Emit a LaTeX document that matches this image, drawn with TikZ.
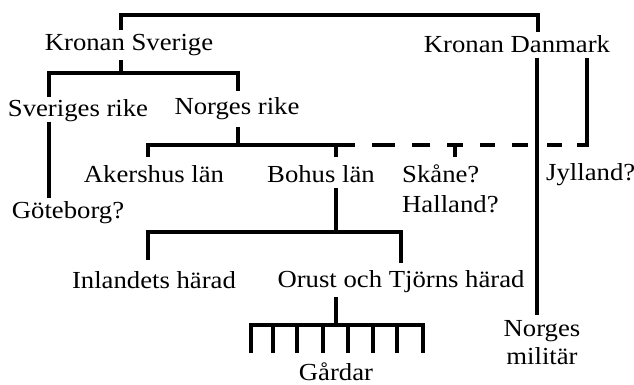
\documentclass[tikz,border=0pt]{standalone}
\usepackage{fontspec}
\setmainfont{Liberation Serif}[FakeStretch=1.09]
\begin{document}
\begin{tikzpicture}[x=1pt,y=-1pt,
  lbl/.style={font=\fontsize{24.5}{28}\selectfont, inner sep=0pt, anchor=base},
  br/.style={line width=3.4pt, line cap=butt, line join=miter}]
\useasboundingbox (0,0) rectangle (634,385);
\fill[white] (0,0) rectangle (634,385);
% labels
\node[lbl] (ks) at (129,51) {Kronan Sverige};
\node[lbl] (kd) at (517,53) {Kronan Danmark};
\node[lbl] (sr) at (78,117) {Sveriges rike};
\node[lbl] (nr) at (237,115) {Norges rike};
\node[lbl] (ak) at (154,182) {Akershus län};
\node[lbl] (bo) at (321,182) {Bohus län};
\node[lbl, anchor=base west] (sk) at (402,182) {Skåne?};
\node[lbl, anchor=base west] (ha) at (402,212) {Halland?};
\node[lbl, anchor=base west] (jy) at (546,180) {Jylland?};
\node[lbl] (gb) at (68,218) {Göteborg?};
\node[lbl] (in) at (154,288) {Inlandets härad};
\node[lbl] (or) at (401,287) {Orust och Tjörns härad};
\node[lbl, align=center] (nm) at (542,364) {Norges\\militär};
\node[lbl] (ga) at (336,380) {Gårdar};
% connector end points
\coordinate (ksT) at (121,30);  \coordinate (kdT) at (538,32);
\coordinate (ksB) at (121,60);  \coordinate (srT) at (49,97);  \coordinate (nrT) at (238,91);
\coordinate (srB) at (49,122);  \coordinate (gbT) at (49,198);
\coordinate (nrB) at (238,127); \coordinate (akT) at (148,157); \coordinate (boT) at (336,157);
\coordinate (skT) at (455,157); \coordinate (kdJ) at (587,58);
\coordinate (kdB) at (537,58);  \coordinate (nmT) at (537,315);
\coordinate (boB) at (336,188); \coordinate (inT) at (148,260); \coordinate (orT) at (401,263);
\coordinate (orB) at (336,297); \coordinate (gaL) at (251,353); \coordinate (gaR) at (423,353);
% crowns
\draw[br] (ksT) -- ++(0,-15) -| (kdT);
% Kronan Sverige
\draw[br] (ksB) -- ++(0,13) coordinate (ksJ);
\draw[br] (srT) |- (ksJ) -| (nrT);
% Sveriges rike
\draw[br] (srB) -- (gbT);
% Norges rike
\draw[br] (nrB) -- ++(0,18) coordinate (nrJ);
\draw[br] (akT) |- (nrJ) -- (355,145);
\draw[br] (boT) -- (boT |- nrJ);
\foreach \a/\b in {372/395,412/430,447/463,480/495,512/528,547/562}
  \draw[br] (\a,145) -- (\b,145);
\draw[br] (skT) -- (skT |- nrJ);
\draw[br] (577,145) -| (kdJ);
% Kronan Danmark
\draw[br] (kdB) -- (nmT);
% Bohus län
\draw[br] (boB) -- ++(0,44) coordinate (boJ);
\draw[br] (inT) |- (boJ) -| (orT);
% Orust och Tjörns härad
\draw[br] (orB) -- ++(0,28) coordinate (orJ);
\draw[br] (gaL) |- (orJ) -| (gaR);
\foreach \x in {273,297,323,348,373,397}
  \draw[br] (\x,325) -- (\x,353);
\end{tikzpicture}
\end{document}
